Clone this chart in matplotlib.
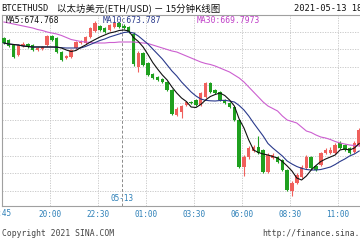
import matplotlib
matplotlib.use('Agg')
import matplotlib.pyplot as plt
import numpy as np

plt.rcParams['font.family'] = ['DejaVu Sans Mono', 'Noto Sans CJK SC']

# 15-minute candles, left to right
opens = [686.2, 686.0, 685.5, 684.5, 685.4, 685.6, 685.5, 685.0, 685.1, 685.5,
         686.4, 686.2, 684.8, 684.2, 684.3, 685.2, 685.7, 685.7, 686.3, 686.9,
         687.4, 687.2, 687.0, 687.3, 687.7, 687.4, 687.3, 686.6, 683.3, 684.7,
         683.7, 682.6, 682.3, 682.1, 681.8, 681.0, 678.5, 678.8, 679.5, 679.8,
         680.0, 679.5, 680.3, 681.7, 681.0, 680.8, 680.0, 679.7, 679.3, 678.0,
         673.3, 674.3, 674.9, 675.3, 675.0, 672.8, 674.2, 674.3, 674.0, 673.0,
         670.9, 671.7, 672.3, 673.2, 674.3, 673.4, 673.5, 674.7, 674.7, 674.7,
         675.7, 675.5, 675.2, 674.8, 675.5]
closes = [685.7, 685.4, 684.3, 685.5, 685.6, 685.3, 685.0, 685.2, 685.3, 686.4,
          686.0, 684.8, 684.0, 684.4, 685.0, 685.8, 685.8, 686.3, 687.2, 687.7,
          687.0, 686.8, 687.5, 687.7, 687.3, 687.2, 686.8, 683.6, 684.7, 683.5,
          682.5, 682.2, 682.0, 681.8, 681.0, 678.6, 679.1, 679.4, 679.8, 679.7,
          679.5, 680.7, 681.7, 680.8, 680.7, 680.0, 679.7, 679.3, 678.0, 673.3,
          674.3, 675.2, 675.3, 674.7, 672.8, 674.5, 674.5, 673.8, 673.0, 671.0,
          671.7, 672.5, 673.3, 674.3, 673.2, 673.0, 674.7, 675.0, 675.0, 675.5,
          675.2, 675.0, 674.7, 675.7, 677.0]
highs = [686.3, 686.1, 685.6, 685.6, 685.8, 685.7, 685.6, 685.3, 685.4, 686.5,
         686.5, 686.3, 684.9, 684.5, 685.1, 685.9, 686.0, 686.4, 687.3, 687.9,
         687.5, 687.3, 687.6, 687.9, 687.8, 687.6, 687.4, 686.8, 684.9, 684.8,
         683.8, 682.7, 682.4, 682.2, 681.9, 681.1, 679.3, 679.5, 679.9, 679.9,
         680.1, 680.8, 681.8, 681.8, 681.1, 680.9, 680.1, 679.8, 679.4, 678.1,
         674.5, 675.4, 675.5, 676.4, 675.1, 674.7, 674.7, 674.4, 674.1, 673.1,
         671.9, 672.7, 673.5, 674.5, 674.4, 673.5, 674.8, 675.2, 675.3, 675.7,
         675.9, 675.6, 675.3, 675.9, 677.2]
lows = [685.6, 685.3, 684.2, 684.4, 685.3, 685.2, 684.9, 684.9, 685.0, 685.4,
        685.9, 684.7, 683.9, 684.1, 684.2, 685.1, 685.6, 685.6, 686.2, 686.8,
        686.9, 686.7, 686.9, 687.2, 687.2, 687.1, 686.7, 683.4, 682.8, 683.4,
        682.4, 682.1, 681.9, 681.7, 680.9, 678.5, 678.4, 678.2, 679.4, 679.6,
        679.4, 679.4, 680.2, 680.7, 680.6, 679.9, 679.6, 679.2, 677.9, 673.2,
        672.4, 674.1, 674.8, 674.6, 672.7, 672.7, 674.1, 673.7, 672.9, 670.9,
        670.4, 671.6, 672.2, 673.1, 673.1, 672.9, 673.4, 674.6, 674.6, 674.6,
        675.1, 674.9, 674.6, 674.7, 675.4]

ma5 = [685.70, 685.60, 685.55, 685.50, 685.40, 685.35, 685.30, 685.30, 685.30, 685.30,
       685.30, 685.30, 685.20, 685.00, 684.85, 684.95, 685.25, 685.50, 685.80, 686.05,
       686.30, 686.50, 686.70, 686.80, 686.95, 687.00, 686.90, 686.25, 685.85, 685.30,
       684.55, 683.75, 683.10, 682.50, 682.00, 681.30, 680.70, 680.20, 679.85, 679.30,
       679.25, 679.55, 680.00, 680.35, 680.55, 680.70, 680.45, 680.00, 679.40, 678.10,
       677.20, 676.00, 675.00, 674.75, 674.60, 674.50, 674.35, 674.20, 673.85, 673.40,
       672.90, 672.20, 672.00, 672.40, 673.00, 673.45, 673.85, 674.10, 674.30, 674.50,
       675.00, 675.10, 675.00, 675.20, 675.65]
ma10 = [685.70, 685.60, 685.55, 685.50, 685.40, 685.35, 685.30, 685.30, 685.30, 685.30,
        685.30, 685.27, 685.23, 685.20, 685.20, 685.20, 685.20, 685.35, 685.55, 685.75,
        685.95, 686.10, 686.30, 686.45, 686.60, 686.75, 686.80, 686.70, 686.40, 686.00,
        685.60, 685.10, 684.60, 684.10, 683.50, 682.90, 682.40, 681.80, 681.30, 680.80,
        680.40, 680.10, 679.97, 679.92, 679.90, 679.95, 679.97, 679.90, 679.80, 679.45,
        679.00, 678.40, 677.70, 677.05, 676.40, 675.65, 675.20, 674.80, 674.40, 673.90,
        673.60, 673.35, 673.17, 673.05, 673.00, 673.00, 673.05, 673.17, 673.30, 673.55,
        673.85, 674.10, 674.40, 674.60, 674.90]
ma30 = [687.80, 687.70, 687.60, 687.50, 687.40, 687.30, 687.20, 687.05, 686.95, 686.80,
        686.70, 686.60, 686.45, 686.25, 686.05, 685.95, 685.85, 685.80, 685.75, 685.70,
        685.70, 685.70, 685.75, 685.75, 685.80, 685.80, 685.80, 685.80, 685.75, 685.70,
        685.65, 685.50, 685.35, 685.20, 685.05, 684.90, 684.80, 684.60, 684.40, 684.20,
        684.00, 683.80, 683.65, 683.55, 683.40, 683.20, 683.00, 682.80, 682.50, 682.20,
        681.80, 681.30, 680.80, 680.30, 679.80, 679.40, 679.15, 678.90, 678.40, 678.00,
        677.85, 677.70, 677.30, 676.90, 676.75, 676.50, 676.30, 676.20, 676.05, 675.85,
        675.70, 675.60, 675.50, 675.45, 675.40]

time_labels = ['20:00', '22:30', '01:00', '03:30', '06:00', '08:30', '11:00']
day_label = '05-13'

red = '#f0605c'
green = '#1fa01f'
blue_txt = '#2e80b8'

fig = plt.figure(figsize=(3.6, 2.4), dpi=100)
ax = fig.add_axes([2 / 360, 1 - 206 / 240, 1 - 2 / 360, 191 / 240])

x = np.arange(len(opens))
o = np.array(opens)
c = np.array(closes)
up = c >= o
cols = np.where(up, red, green)

ax.vlines(x, lows, highs, colors=cols, linewidth=0.8, zorder=3)
ax.bar(x, np.maximum(np.abs(c - o), 0.12), bottom=np.minimum(o, c), width=0.72,
       color=cols, linewidth=0, zorder=4)

ax.plot(x, ma30, color='#cc5fd0', lw=0.8, zorder=5)
ax.plot(x, ma10, color='#2a3a8c', lw=0.8, zorder=5)
ax.plot(x, ma5, color='#111111', lw=0.8, zorder=6)

ax.set_xlim(-0.4, 74.17)
ax.set_ylim(669.4, 688.5)

# grid
grid_y = 686.83 - 1.77 * np.arange(10)
for gy in grid_y:
    ax.axhline(gy, color='#c4c4c4', lw=0.6, ls=(0, (1.5, 1.5)), zorder=1)
tick_x = 9.6 + 10 * np.arange(len(time_labels))
for tx in tick_x:
    ax.axvline(tx, color='#c4c4c4', lw=0.6, ls=(0, (1.5, 1.5)), zorder=1)
ax.axvline(24.6, color='#8a8a8a', lw=0.7, ls=(0, (3, 2)), zorder=1)
ax.text(24.6, 669.7, day_label, color=blue_txt, fontsize=5.5, ha='center', va='bottom', zorder=7)

ax.set_xticks(tick_x)
ax.set_xticklabels(time_labels, color=blue_txt, fontsize=5.5)
ax.tick_params(axis='x', length=0, pad=3)
ax.set_yticks([])
for s in ['left', 'top', 'bottom']:
    ax.spines[s].set_color('#a0a0a0')
    ax.spines[s].set_linewidth(0.8)
ax.spines['right'].set_visible(False)

# MA legend inside
ax.text(0.01, 0.995, 'MA5:674.768', transform=ax.transAxes, color='#111111',
        fontsize=5.8, ha='left', va='top', zorder=8)
ax.text(0.28, 0.995, 'MA10:673.787', transform=ax.transAxes, color='#2a3a8c',
        fontsize=5.8, ha='left', va='top', zorder=8)
ax.text(0.545, 0.995, 'MA30:669.7973', transform=ax.transAxes, color='#c040c8',
        fontsize=5.8, ha='left', va='top', zorder=8)

# header
fig.text(1 / 360, 1 - 8.5 / 240, 'BTCETHUSD', fontsize=6.3, color='#111111', va='center')
fig.text(57 / 360, 1 - 8.5 / 240, '以太坊美元(ETH/USD) － 15分钟K线图', fontsize=6.8,
         color='#111111', va='center', family=['Noto Sans CJK SC', 'DejaVu Sans'])
fig.text(294 / 360, 1 - 8.5 / 240, '2021-05-13 18:00:00', fontsize=6.3, color='#111111', va='center')

# first time label, clipped at the left edge
fig.text(-0.5 / 360, 1 - 213.5 / 240, '17:45', fontsize=5.5, color=blue_txt, ha='center', va='center')

# footer
fig.text(2 / 360, 1 - 233 / 240, 'Copyright 2021 SINA.COM', fontsize=5.8, color='#444444', va='center')
fig.text(262 / 360, 1 - 233 / 240, 'http://finance.sina.com.cn', fontsize=5.8, color='#444444', va='center')

fig.savefig('out.png', dpi=100)
